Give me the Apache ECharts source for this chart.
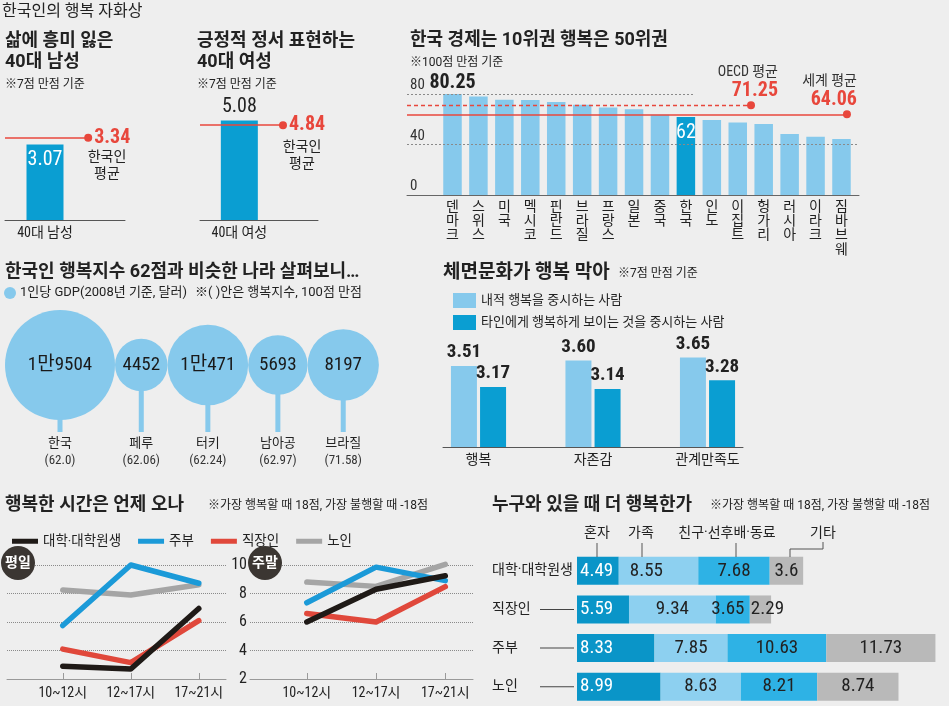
<!DOCTYPE html>
<html><head><meta charset="utf-8">
<script src="https://cdn.jsdelivr.net/npm/echarts@6/dist/echarts.min.js"></script>
<style>html,body{margin:0;padding:0;background:#eeeeee}#c{width:949px;height:706px}</style>
</head><body><div id="c"></div>
<script>
// ---------------- data ----------------
const maleLabel = ['40대 남성'];
const maleValue = [3.07];
const maleAvg = 3.34;
const femaleLabel = ['40대 여성'];
const femaleValue = [5.08];
const femaleAvg = 4.84;

const countries = ['덴마크','스위스','미국','멕시코','핀란드','브라질','프랑스','일본','중국','한국','인도','이집트','헝가리','러시아','이라크','짐바브웨'];
const happiness = [80.25,78.1,75.5,75.4,73.9,71.58,69.4,68.1,63.6,62,59.6,57.5,56.4,48.5,46.3,44.5];
const oecdAvg = 71.25;
const worldAvg = 64.06;
const happinessTicks = [0,40,80];

const gdpCountries = ['한국','페루','터키','남아공','브라질'];
const gdpValues = [19504,4452,10471,5693,8197];
const gdpScores = ['62.0','62.06','62.24','62.97','71.58'];

const faceCategories = ['행복','자존감','관계만족도'];
const faceSeriesNames = ['내적 행복을 중시하는 사람','타인에게 행복하게 보이는 것을 중시하는 사람'];
const faceInner = [3.51,3.60,3.65];
const faceOuter = [3.17,3.14,3.28];

const timeSlots = ['10~12시','12~17시','17~21시'];
const lineGroups = ['대학·대학원생','주부','직장인','노인'];
const weekdayStudent = [2.9,2.7,6.95];
const weekdayHousewife = [5.75,10.0,8.72];
const weekdayWorker = [4.1,3.15,6.1];
const weekdaySenior = [8.25,7.9,8.62];
const weekendStudent = [6.0,8.3,9.25];
const weekendHousewife = [7.35,9.85,8.9];
const weekendWorker = [6.6,6.0,8.48];
const weekendSenior = [8.8,8.5,10.05];
const lineTicks = [2,4,6,8,10];

const companyGroups = ['대학·대학원생','직장인','주부','노인'];
const companyTypes = ['혼자','가족','친구·선후배·동료','기타'];
const aloneValues = [4.49,5.59,8.33,8.99];
const familyValues = [8.55,9.34,7.85,8.63];
const friendValues = [7.68,3.65,10.63,8.21];
const otherValues = [3.6,2.29,11.73,8.74];

// ---------------- style ----------------
const FONT = 'Roboto, "Noto Sans CJK KR", sans-serif';
const NUM = '"Roboto Condensed", "Liberation Sans Narrow", "Arial Narrow", "DejaVu Sans Condensed", Roboto, "Noto Sans CJK KR", sans-serif';
const DARK = '#0a9ed2', LIGHT = '#86c9ec', RED = '#e8473c', INK = '#222';
const LINE_COLORS = ['#1f1a17','#1b9ad8','#e0483b','#a5a5a5'];
const COMPANY_COLORS = ['#0a95c8','#8dd0f0','#2eb2e5','#b9b9b9'];
const X3MIN = -1.7545, X3MAX = 15.675;

function T(x, y, text, size, o) {
  o = o || {};
  return {type:'text', x:x, y:y, silent:true, z:100,
    style:{text:text, fill:o.color||INK, font:(o.weight||'normal')+' '+size+'px '+(o.font||FONT),
      align:o.align||'left', verticalAlign:'middle'}};
}
function L(x1,y1,x2,y2,color){
  return {type:'line', silent:true, z:100, shape:{x1:x1,y1:y1,x2:x2,y2:y2}, style:{stroke:color||'#555', lineWidth:1}};
}
function hiddenAxis(gi, min, max, extra){
  return Object.assign({type:'value', gridIndex:gi, min:min, max:max, show:false}, extra||{});
}

const grids = [
  {left:5, top:121.6, width:120, height:98.4},
  {left:200, top:102.4, width:118, height:117.6},
  {left:407, top:69, width:452, height:126},
  {left:0, top:300, width:430, height:170},
  {left:443, top:335.8, width:300, height:111.2},
  {left:7, top:565, width:219, height:114},
  {left:250, top:565, width:223, height:114},
  {left:577, top:551.5, width:376.8, height:156}
];

function singleBarX(gi, labels){
  return {type:'value', gridIndex:gi, min:-1, max:2,
    axisLine:{show:true, lineStyle:{color:'#555'}}, axisTick:{show:false}, splitLine:{show:false},
    axisLabel:{customValues:[0], formatter:function(v){return labels[v];}, color:INK, fontSize:14, fontFamily:NUM, margin:7}};
}

const xAxes = [
  singleBarX(0, maleLabel),
  singleBarX(1, femaleLabel),
  {type:'value', gridIndex:2, min:X3MIN, max:X3MAX,
    axisLine:{show:true, lineStyle:{color:'#666'}}, axisTick:{show:false}, splitLine:{show:false},
    axisLabel:{customValues:countries.map(function(c,i){return i;}),
      formatter:function(v){return countries[v].split('').join('\n');},
      color:INK, fontSize:14, lineHeight:14.3, fontFamily:FONT, margin:5, verticalAlign:'top'}},
  hiddenAxis(3, 0, 430),
  {type:'value', gridIndex:4, min:-0.31, max:2.31,
    axisLine:{show:true, lineStyle:{color:'#555'}}, axisTick:{show:false}, splitLine:{show:false},
    axisLabel:{customValues:[0,1,2], formatter:function(v){return faceCategories[v];}, color:INK, fontSize:14, fontFamily:FONT, margin:7}},
  {type:'value', gridIndex:5, min:-0.82, max:2.4,
    axisLine:{show:true, lineStyle:{color:'#999'}}, splitLine:{show:false},
    axisTick:{show:true, inside:true, length:6, customValues:[0,1,2], lineStyle:{color:'#999'}},
    axisLabel:{customValues:[0,1,2], formatter:function(v){return timeSlots[v];}, color:INK, fontSize:14, fontFamily:NUM, margin:7}},
  {type:'value', gridIndex:6, min:-0.82, max:2.4,
    axisLine:{show:true, lineStyle:{color:'#999'}}, splitLine:{show:false},
    axisTick:{show:true, inside:true, length:6, customValues:[0,1,2], lineStyle:{color:'#999'}},
    axisLabel:{customValues:[0,1,2], formatter:function(v){return timeSlots[v];}, color:INK, fontSize:14, fontFamily:NUM, margin:7}},
  hiddenAxis(7, 0, 40)
];

function lineY(gi, showLabels){
  return {type:'value', gridIndex:gi, min:2, max:10, interval:2,
    axisLine:{show:false}, axisTick:{show:false},
    axisLabel:{show:showLabels, color:INK, fontSize:16, fontFamily:NUM, margin:3},
    splitLine:{show:true, lineStyle:{type:'dotted', color:'#8a8a8a', width:1}}};
}

const yAxes = [
  hiddenAxis(0, 0, 4),
  hiddenAxis(1, 0, 6),
  {type:'value', gridIndex:2, min:0, max:100,
    axisLine:{show:false}, axisTick:{show:false}, splitLine:{show:false},
    axisLabel:{customValues:happinessTicks, inside:true, margin:3, align:'left', verticalAlign:'bottom',
      padding:[0,0,1,0], color:'#333', fontSize:15, fontFamily:NUM}},
  hiddenAxis(3, 0, 170, {inverse:true}),
  hiddenAxis(4, 2.2, 4.0),
  lineY(5, false),
  lineY(6, true),
  {type:'category', gridIndex:7, data:companyGroups, inverse:true,
    axisLine:{show:false}, axisTick:{show:false},
    axisLabel:{margin:85, align:'left', color:INK, fontFamily:FONT,
      formatter:function(v, i){ return i === 0 ? '{w|'+v+'}' : '{n|'+v+'}{ln|}'; },
      rich:{w:{fontSize:14, color:INK, fontFamily:FONT},
            n:{fontSize:14, color:INK, fontFamily:FONT, width:48},
            ln:{width:34, height:1, backgroundColor:'#444'}}}}
];

// ---------------- series ----------------
const series = [];

function singleBar(gi, values, avg, endX, inside){
  return {type:'bar', xAxisIndex:gi, yAxisIndex:gi, barWidth:37, silent:true,
    data: values.map(function(v,i){return [i, v];}),
    itemStyle:{color:DARK},
    label:{show:true, position: inside ? 'insideTop' : 'top', distance: inside ? 6 : 3,
      color: inside ? '#fff' : INK, fontSize:20, fontFamily:NUM,
      formatter:function(p){return p.value[1].toFixed(2);}},
    markLine:{silent:true, symbol:['none','circle'], symbolSize:8,
      lineStyle:{color:RED, type:'solid', width:1.5},
      label:{show:true, position:'end', distance:6, color:RED, fontSize:20, fontWeight:'bold', fontFamily:NUM,
        formatter: avg.toFixed(2)},
      data:[[{coord:[-1, avg]}, {coord:[endX, avg]}]]}};
}
series.push(singleBar(0, maleValue, maleAvg, 1.08, true));
series.push(singleBar(1, femaleValue, femaleAvg, 1.11, false));

series.push({type:'line', xAxisIndex:2, yAxisIndex:2, data:[], z:1, silent:true,
  markLine:{silent:true, symbol:['none','none'], label:{show:false},
    lineStyle:{type:[2,2], color:'#8a8a8a', width:1},
    data:[[{coord:[X3MIN, 80]}, {coord:[9.35, 80]}],
          [{coord:[X3MIN, 40]}, {coord:[X3MAX, 40]}]]}});
series.push({type:'bar', xAxisIndex:2, yAxisIndex:2, barWidth:18.5, z:2, silent:true,
  data: countries.map(function(c,i){
    const item = {value:[i, happiness[i]], itemStyle:{color: c === '한국' ? DARK : LIGHT}};
    if (i === 0) item.label = {show:true, position:'top', distance:1, color:INK, fontSize:20, fontWeight:'bold', fontFamily:NUM};
    else if (c === '한국') item.label = {show:true, position:'insideTop', distance:6, color:'#fff', fontSize:20, fontFamily:NUM};
    return item;
  }),
  label:{show:false, formatter:function(p){return String(p.value[1]);}}
});
function avgLabel(name, v, dx){
  return {show:true, position:'insideEndTop', offset:[dx, 0], distance:4,
    formatter:'{a|'+name+'}\n{b|'+v.toFixed(2)+'}',
    rich:{a:{fontSize:14, color:'#333', lineHeight:18, fontFamily:NUM, align:'right'},
          b:{fontSize:20, color:RED, fontWeight:'bold', lineHeight:20, fontFamily:NUM, align:'right'}}};
}
series.push({type:'line', xAxisIndex:2, yAxisIndex:2, data:[], z:3, silent:true,
  markLine:{silent:true, symbol:['none','circle'], symbolSize:8,
    data:[
      [{coord:[X3MIN, oecdAvg], lineStyle:{type:[4,3], color:RED, width:1.3}, itemStyle:{color:RED}, label:avgLabel('OECD 평균', oecdAvg, 31)},
       {coord:[11.51, oecdAvg]}],
      [{coord:[X3MIN, worldAvg], lineStyle:{type:'solid', color:RED, width:1.5}, itemStyle:{color:RED}, label:avgLabel('세계 평균', worldAvg, 14)},
       {coord:[15.21, worldAvg]}]
    ]}});

const maxGdp = Math.max.apply(null, gdpValues);
const R_MAX = 55;
const radii = gdpValues.map(function(v){return R_MAX * Math.sqrt(v / maxGdp);});
const centers = [];
(function(){ let edge = 5; radii.forEach(function(r){ centers.push(edge + r); edge += 2 * r; }); })();
function fmtGdp(v){ return v >= 10000 ? Math.floor(v/10000) + '만' + (v % 10000) : String(v); }
series.push({type:'custom', xAxisIndex:3, yAxisIndex:3, silent:true, clip:false,
  data: gdpValues.map(function(v,i){return [centers[i], radii[i], v];}),
  renderItem:function(params, api){
    const i = params.dataIndex;
    const c = api.coord([api.value(0), 65]);
    const cx = c[0], cy = c[1];
    const r = api.value(1);
    const stemY = api.coord([0, 132])[1];
    const nameY = api.coord([0, 144])[1];
    const scoreY = api.coord([0, 161])[1];
    return {type:'group', children:[
      {type:'rect', shape:{x:cx-2.5, y:cy+r-3, width:5, height:stemY-(cy+r-3)}, style:{fill:LIGHT}},
      {type:'circle', shape:{cx:cx, cy:cy, r:r}, style:{fill:LIGHT}},
      {type:'text', x:cx, y:cy, style:{text:fmtGdp(api.value(2)), fill:'#1a1a1a', font:'19px '+NUM, align:'center', verticalAlign:'middle'}},
      {type:'text', x:cx, y:nameY, style:{text:gdpCountries[i], fill:INK, font:'13px '+FONT, align:'center', verticalAlign:'middle'}},
      {type:'text', x:cx, y:scoreY, style:{text:'('+gdpScores[i]+')', fill:'#333', font:'13px '+NUM, align:'center', verticalAlign:'middle'}}
    ]};
  }});

[faceInner, faceOuter].forEach(function(vals, k){
  series.push({type:'bar', name:faceSeriesNames[k], xAxisIndex:4, yAxisIndex:4, barWidth:26, barGap:'12%', silent:true,
    data: vals.map(function(v,i){return [i, v];}),
    itemStyle:{color: k === 0 ? LIGHT : DARK},
    label:{show:true, position:'top', distance:4, color:INK, fontSize:19, fontWeight:'bold', fontFamily:NUM,
      formatter:function(p){return p.value[1].toFixed(2);}}});
});

const weekdaySets = [weekdayStudent, weekdayHousewife, weekdayWorker, weekdaySenior];
const weekendSets = [weekendStudent, weekendHousewife, weekendWorker, weekendSenior];
const drawOrder = [3, 1, 2, 0];
[[5, weekdaySets], [6, weekendSets]].forEach(function(pair){
  drawOrder.forEach(function(k, z){
    series.push({type:'line', name:lineGroups[k], xAxisIndex:pair[0], yAxisIndex:pair[0],
      data: pair[1][k].map(function(v,i){return [i, v];}),
      symbol:'none', clip:false, silent:true, z:2 + z,
      itemStyle:{color:LINE_COLORS[k]},
      lineStyle:{color:LINE_COLORS[k], width:5.5, cap:'round', join:'round'}});
  });
});

// label nudges for crowded segments (style only)
const labelNudges = {'1-0':{position:'insideLeft', distance:11}, '2-1':{offset:[-5,0]}, '3-1':{offset:[7,0]}};
[aloneValues, familyValues, friendValues, otherValues].forEach(function(vals, k){
  series.push({type:'bar', name:companyTypes[k], stack:'company', xAxisIndex:7, yAxisIndex:7, barWidth:28, silent:true,
    itemStyle:{color:COMPANY_COLORS[k]},
    data: vals.map(function(v,i){
      const n = labelNudges[k + '-' + i];
      return n ? {value:v, label:n} : v;
    }),
    label:{show:true, position: k === 0 ? 'insideLeft' : 'inside', distance:3,
      color: k === 0 ? '#fff' : INK, fontSize:19, fontFamily:NUM,
      formatter:function(p){return String(p.value);}}});
});

const graphics = [
  T(2, 12, '한국인의 행복 자화상', 16),
  T(5, 41, '삶에 흥미 잃은', 18, {weight:'bold'}),
  T(5, 62, '40대 남성', 18, {weight:'bold'}),
  T(5, 85, '※7점 만점 기준', 12),
  T(197, 41, '긍정적 정서 표현하는', 18, {weight:'bold'}),
  T(197, 62, '40대 여성', 18, {weight:'bold'}),
  T(197, 85, '※7점 만점 기준', 12),
  T(107, 157, '한국인', 14, {align:'center'}),
  T(107, 174, '평균', 14, {align:'center'}),
  T(302, 147, '한국인', 14, {align:'center'}),
  T(302, 164, '평균', 14, {align:'center'}),
  T(410, 40, '한국 경제는 10위권 행복은 50위권', 18, {weight:'bold'}),
  T(410, 63, '※100점 만점 기준', 12),
  T(5, 272, '한국인 행복지수 62점과 비슷한 나라 살펴보니…', 18, {weight:'bold'}),
  {type:'circle', silent:true, z:100, shape:{cx:10, cy:293, r:6}, style:{fill:LIGHT}},
  T(20, 293, '1인당 GDP(2008년 기준, 달러)', 13),
  T(195, 293, '※( )안은 행복지수, 100점 만점', 13),
  T(443, 273, '체면문화가 행복 막아', 19, {weight:'bold'}),
  T(618, 274, '※7점 만점 기준', 12),
  T(5, 505, '행복한 시간은 언제 오나', 18, {weight:'bold'}),
  T(208, 506, '※가장 행복할 때 18점, 가장 불행할 때 -18점', 12),
  {type:'circle', silent:true, z:100, shape:{cx:18, cy:563, r:17}, style:{fill:'#3b3632'}},
  T(18, 563, '평일', 14, {align:'center', color:'#fff', weight:'bold'}),
  {type:'circle', silent:true, z:100, shape:{cx:265, cy:563, r:17}, style:{fill:'#3b3632'}},
  T(265, 563, '주말', 14, {align:'center', color:'#fff', weight:'bold'}),
  T(492, 505, '누구와 있을 때 더 행복한가', 18, {weight:'bold'}),
  T(710, 506, '※가장 행복할 때 18점, 가장 불행할 때 -18점', 12),
  T(597, 533, companyTypes[0], 14, {align:'center'}),
  T(641, 533, companyTypes[1], 14, {align:'center'}),
  T(727, 533, companyTypes[2], 14, {align:'center'}),
  T(823, 533, companyTypes[3], 14, {align:'center'}),
  L(597, 543, 597, 557), L(642, 543, 642, 557), L(736, 543, 736, 557),
  {type:'polyline', silent:true, z:100, shape:{points:[[823,542],[823,549],[790,549],[790,557]]}, style:{stroke:'#555', lineWidth:1, fill:null}}
];

const option = {
  backgroundColor:'#eeeeee',
  animation:false,
  textStyle:{fontFamily:FONT},
  grid: grids,
  xAxis: xAxes,
  yAxis: yAxes,
  legend:[
    {data:lineGroups, left:7, top:529.5, icon:'rect', itemWidth:26, itemHeight:5, itemGap:17,
      selectedMode:false, textStyle:{fontSize:13.5, color:INK, fontFamily:FONT}},
    {data:faceSeriesNames, left:448, top:288, orient:'vertical', icon:'rect', itemWidth:23, itemHeight:15, itemGap:7,
      selectedMode:false, textStyle:{fontSize:13, color:INK, fontFamily:FONT}}
  ],
  series: series,
  graphic: graphics
};

const chart = echarts.init(document.getElementById('c'), null, {renderer:'canvas', width:949, height:706});
chart.setOption(option);
</script>
</body></html>
